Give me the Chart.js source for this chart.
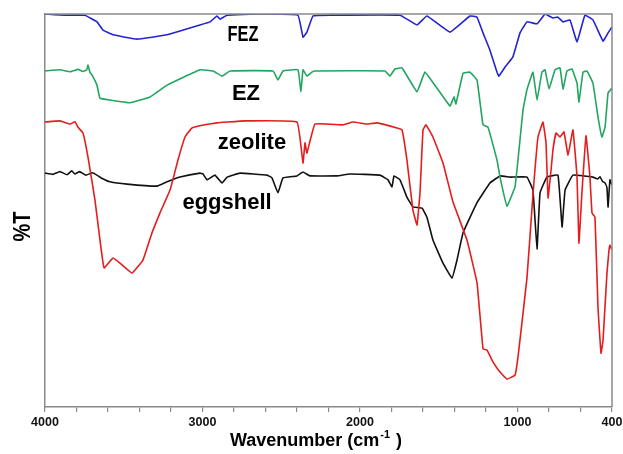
<!DOCTYPE html>
<html><head><meta charset="utf-8">
<script src="https://cdn.jsdelivr.net/npm/chart.js@4/dist/chart.umd.min.js"></script>
<style>html,body{margin:0;padding:0;background:#fff}canvas{display:block}</style>
</head><body>
<canvas id="c" width="623" height="454"></canvas>
<script>
// Wavenumber (cm-1) and %T (arbitrary, offset)
const fezWave = [4000,3873,3746,3714,3670,3632,3568,3416,3225,3016,2952,2908,2889,2844,2635,2394,2362,2337,2298,2191,1746,1638,1575,1429,1302,1257,1219,1175,1130,1118,1079,1029,984,940,876,825,775,743,711,667,622,572,521,457,425,400];
const fezT    = [100,99.7,99.7,99.0,98.0,95.9,94.7,93.6,94.7,97.2,98.0,99.5,98.7,99.7,100,99.7,94.1,95.4,99.5,99.7,99.7,97.2,99.5,95.4,99.5,99.2,95.2,90.8,85.2,84.2,86.5,89.1,95.2,98.0,97.5,100,99.0,99.2,98.0,98.5,92.9,99.7,98.5,93.1,95.2,96.7];

const ezWave = [4000,3905,3840,3790,3760,3735,3727,3715,3702,3670,3651,3587,3460,3333,3225,3016,2933,2876,2825,2552,2521,2489,2394,2375,2362,2337,2305,2286,1841,1810,1778,1733,1638,1587,1429,1403,1391,1346,1302,1257,1219,1187,1130,1111,1067,1016,997,965,940,902,876,845,825,800,762,730,711,686,654,622,610,584,559,521,489,464,444,425,400];
const ezT    = [85.5,85.8,85.3,85.9,85.4,85.8,87.0,85.2,84.5,81.9,78.6,78.1,77.4,78.9,81.9,85.8,85.5,84.2,85.5,85.5,83.2,85.5,85.8,80.2,85.8,84.2,85.2,85.5,85.5,84.2,86.0,86.3,80.2,85.2,76.6,78.9,77.1,84.9,85.2,83.2,71.8,71.2,62.8,58.5,51.1,56.0,62.8,75.6,80.7,85.2,78.1,85.2,85.8,80.9,85.8,86.3,80.9,85.5,86.0,82.4,77.6,85.2,85.5,82.4,73.8,68.7,71.2,79.9,81.2];

const zeoWave = [4000,3905,3840,3810,3790,3759,3727,3683,3651,3625,3568,3524,3448,3378,3321,3270,3206,3156,3111,3067,2984,2908,2844,2730,2400,2362,2349,2337,2286,2108,2044,1956,1892,1765,1733,1702,1664,1638,1619,1600,1581,1537,1473,1410,1321,1257,1219,1194,1156,1111,1067,1016,997,940,902,870,838,819,806,787,775,756,730,705,679,648,622,610,591,565,540,527,508,489,470,457,432,419,413,400];
const zeoT    = [72.5,72.8,72.0,72.6,71.2,69.7,63.6,52.7,42.5,35.4,37.9,36.6,34.1,37.4,44.3,49.4,55.2,62.8,68.7,71.0,71.8,72.3,72.5,72.8,72.5,62.1,67.2,64.6,72.0,71.8,72.5,72.0,72.3,71.0,70.5,62.8,50.1,46.3,54.5,70.5,71.8,68.7,62.1,52.2,42.5,31.6,14.8,14.5,11.5,8.9,7.1,8.1,12.7,32.8,53.9,68.7,72.5,67.2,53.2,60.3,65.4,69.7,68.7,70.0,64.1,70.5,58.5,41.7,54.5,69.0,58.5,49.4,48.3,25.4,13.7,17.0,34.1,39.9,41.2,39.9];

const eggWave = [4000,3950,3905,3860,3830,3810,3780,3740,3700,3670,3640,3587,3479,3289,3225,3143,3016,2997,2971,2921,2876,2844,2762,2590,2559,2521,2489,2400,2362,2318,2146,2064,1873,1822,1797,1784,1746,1702,1664,1606,1575,1537,1473,1416,1384,1346,1257,1175,1111,1048,940,902,876,857,813,743,717,698,648,521,490,476,460,444,432,425,413,400];
const eggT    = [59.5,59.2,59.9,59.1,60.1,59.3,59.9,59.0,59.6,59.0,58.2,57.3,56.7,56.2,57.3,58.5,59.5,59.3,57.8,59.0,57.0,58.5,59.5,59.0,58.3,54.5,58.3,58.8,59.8,58.8,58.8,59.3,59.0,57.8,56.0,58.8,57.8,53.4,50.9,50.6,48.3,42.5,36.6,32.8,37.4,44.3,52.0,57.0,58.8,58.5,58.5,55.2,40.2,54.5,58.5,59.0,45.8,55.2,59.0,58.5,58.0,58.6,57.4,57.0,55.8,50.9,57.8,56.5];

const seriesNames = ['FEZ','EZ','zeolite','eggshell'];
const labelWave = [2743, 2724, 2686, 2844];
const labelT    = [94.7, 79.6, 67.2, 51.9];
const tickLabels = [4000, 3000, 2000, 1000, 400];

const pts = (w, t) => w.map((x, i) => ({x, y: t[i]}));
const FONT = '"Liberation Sans", Arial, sans-serif';

const textPlugin = {
  id: 'texts',
  afterDatasetsDraw(chart) {
    const {ctx, chartArea: a, scales: {x, y}} = chart;
    ctx.save();
    ctx.strokeStyle = '#8a8a8a'; ctx.lineWidth = 1.5;
    ctx.beginPath();
    ctx.moveTo(a.left, a.top); ctx.lineTo(a.right, a.top); ctx.lineTo(a.right, a.bottom);
    ctx.stroke();
    ctx.fillStyle = '#000';
    ctx.textAlign = 'center'; ctx.textBaseline = 'middle';
    ctx.font = 'bold 22px ' + FONT;
    seriesNames.forEach((n, i) => {
      const px = x.getPixelForValue(labelWave[i]);
      const py = y.getPixelForValue(labelT[i]);
      if (n === 'FEZ') ctx.fillText(n, px, py, 31); else ctx.fillText(n, px, py);
    });
    ctx.save();
    ctx.translate(23, (a.top + a.bottom) / 2 + 16);
    ctx.rotate(-Math.PI / 2);
    ctx.font = 'bold 24px ' + FONT;
    ctx.fillText('%T', 0, 0, 30);
    ctx.restore();
    ctx.textAlign = 'left';
    const f1 = 'bold 18px ' + FONT, f2 = 'bold 11px ' + FONT;
    const s1 = 'Wavenumber (cm', s2 = '-1', s3 = ' )';
    ctx.font = f1; const w1 = ctx.measureText(s1).width, w3 = ctx.measureText(s3).width;
    ctx.font = f2; const w2 = ctx.measureText(s2).width;
    const total = w1 + w2 + 2 + w3;
    let sx = 316 - total / 2;
    const by = 441;
    ctx.font = f1; ctx.fillText(s1, sx, by); sx += w1 + 1;
    ctx.font = f2; ctx.fillText(s2, sx, by - 6); sx += w2 + 1;
    ctx.font = f1; ctx.fillText(s3, sx, by);
    ctx.restore();
  }
};

const ds = (label, data, color) => ({label, data, borderColor: color, borderWidth: 1.6, pointRadius: 0, tension: 0.08, fill: false});

new Chart(document.getElementById('c'), {
  type: 'line',
  data: {
    datasets: [
      ds('FEZ', pts(fezWave, fezT), '#2323d2'),
      ds('EZ', pts(ezWave, ezT), '#22a55e'),
      ds('zeolite', pts(zeoWave, zeoT), '#e51c1c'),
      ds('eggshell', pts(eggWave, eggT), '#111111')
    ]
  },
  options: {
    responsive: false,
    devicePixelRatio: 1,
    animation: false,
    layout: {padding: {top: 14, right: 11, left: 0, bottom: 0}},
    plugins: {legend: {display: false}, tooltip: {enabled: false}},
    scales: {
      x: {
        type: 'linear', reverse: true, min: 400, max: 4000,
        afterBuildTicks(scale) {
          const t = [];
          for (let v = 400; v <= 4000; v += 200) t.push({value: v});
          scale.ticks = t;
        },
        ticks: {
          autoSkip: false, maxRotation: 0, padding: 3, color: '#111',
          font: {family: FONT, weight: 'bold', size: 12.5},
          callback: v => tickLabels.includes(v) ? String(v) : ''
        },
        grid: {drawOnChartArea: false, drawTicks: true, tickLength: 5, color: '#8a8a8a', lineWidth: 1.2},
        border: {display: true, color: '#8a8a8a', width: 1.5},
        afterFit(scale) { scale.height = 47; }
      },
      y: {
        min: 0, max: 100,
        ticks: {display: false},
        grid: {display: false, drawTicks: false},
        border: {display: true, color: '#8a8a8a', width: 1.5},
        afterFit(scale) { scale.width = 45; }
      }
    }
  },
  plugins: [textPlugin]
});
</script>
</body></html>
